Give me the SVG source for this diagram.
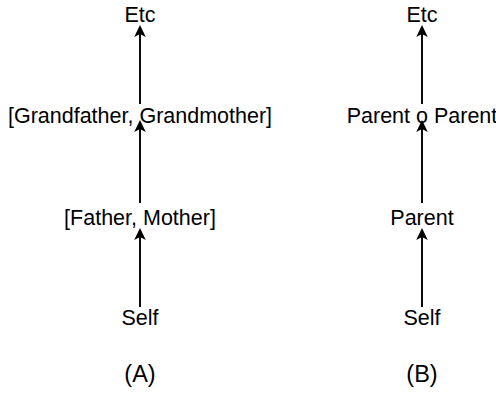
<svg xmlns="http://www.w3.org/2000/svg" width="496" height="393" viewBox="0 0 496 393">
  <style>
    .t { font-family: "Liberation Sans", Arial, sans-serif; font-size: 21.5px; fill: #000; text-anchor: middle; }
    .l { font-family: "Liberation Sans", Arial, sans-serif; font-size: 23.5px; fill: #000; text-anchor: middle; }
    .c { stroke: #000; stroke-width: 1.9; fill: none; }
  </style>
  <defs>
    <marker id="ah" viewBox="0 0 12 12" refX="3" refY="6" markerWidth="12" markerHeight="12" markerUnits="userSpaceOnUse" orient="auto">
      <path d="M0,0.2 L12,6 L0,11.8 L3,6 Z" fill="#000"/>
    </marker>
  </defs>
  <rect width="496" height="393" fill="#fff"/>
  <g id="connectors">
    <line class="c" x1="140" y1="104" x2="140" y2="34" marker-end="url(#ah)"/>
    <line class="c" x1="140" y1="203" x2="140" y2="129" marker-end="url(#ah)"/>
    <line class="c" x1="140" y1="307" x2="140" y2="237" marker-end="url(#ah)"/>
    <line class="c" x1="422" y1="104" x2="422" y2="34" marker-end="url(#ah)"/>
    <line class="c" x1="422" y1="203" x2="422" y2="129" marker-end="url(#ah)"/>
    <line class="c" x1="422" y1="307" x2="422" y2="237" marker-end="url(#ah)"/>
  </g>
  <g id="a-etc"><text class="t" x="140" y="22">Etc</text></g>
  <g id="a-grand"><text class="t" x="140" y="123">[Grandfather, Grandmother]</text></g>
  <g id="a-parents"><text class="t" x="140" y="225">[Father, Mother]</text></g>
  <g id="a-self"><text class="t" x="140" y="325">Self</text></g>
  <g id="a-label"><text class="l" x="140" y="382">(A)</text></g>
  <g id="b-etc"><text class="t" x="422" y="22">Etc</text></g>
  <g id="b-pp"><text class="t" x="422" y="123">Parent o Parent</text></g>
  <g id="b-parent"><text class="t" x="422" y="225">Parent</text></g>
  <g id="b-self"><text class="t" x="422" y="325">Self</text></g>
  <g id="b-label"><text class="l" x="422" y="382">(B)</text></g>
</svg>
